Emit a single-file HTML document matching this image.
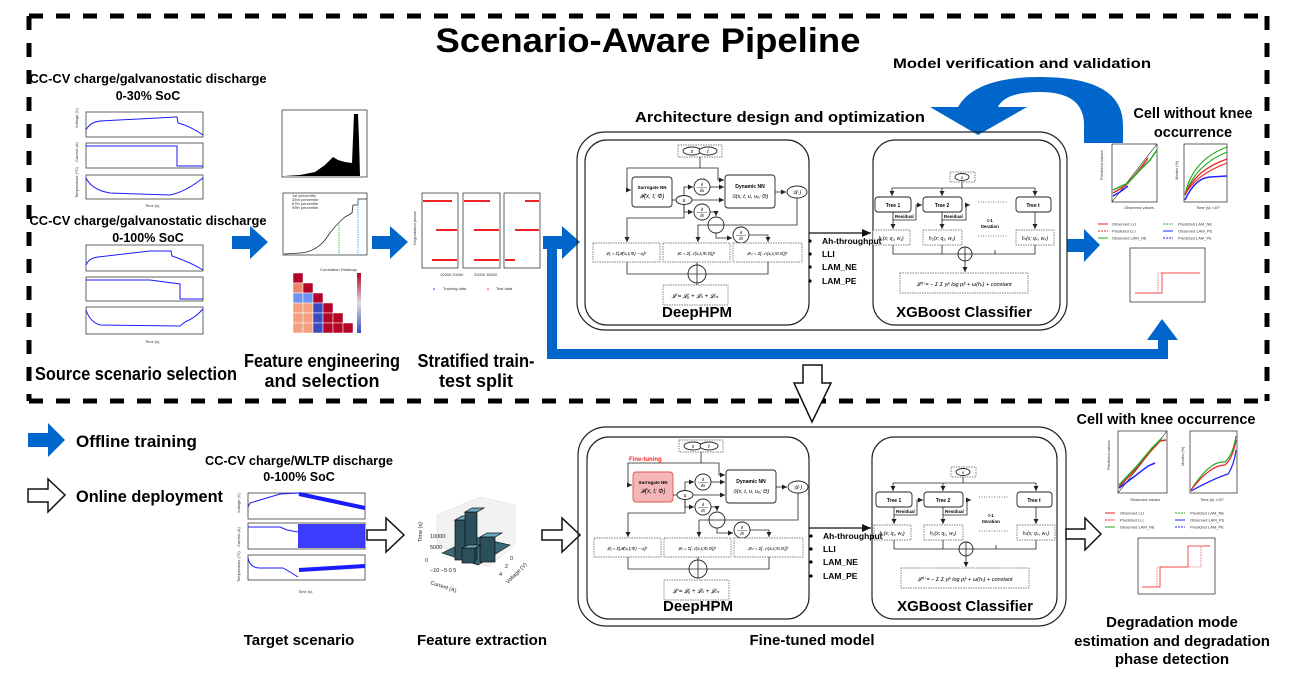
<!DOCTYPE html>
<html><head><meta charset="utf-8"><style>
html,body{margin:0;padding:0;background:#fff}
svg{display:block}
text{font-family:"Liberation Sans",Arial,sans-serif}
.b{font-weight:bold}
.ax{fill:none;stroke:#222;stroke-width:0.7}
.bl{fill:none;stroke:#1a1aff;stroke-width:1}
.ln{fill:none;stroke:#222;stroke-width:0.8}
.bx{fill:#fff;stroke:#222;stroke-width:0.9}
.dbx{fill:#fff;stroke:#555;stroke-width:0.7;stroke-dasharray:1.5 1}
.t4{font-size:4px;fill:#333}
.t5{font-size:5px}
</style></head><body>
<svg width="1296" height="684" viewBox="0 0 1296 684" xmlns="http://www.w3.org/2000/svg">
<defs>
<marker id="ah" markerWidth="6" markerHeight="6" refX="5" refY="3" orient="auto" markerUnits="userSpaceOnUse"><path d="M0,0.5 L5,3 L0,5.5 z" fill="#222"/></marker>
<marker id="ah2" markerWidth="10" markerHeight="10" refX="9" refY="5" orient="auto" markerUnits="userSpaceOnUse"><path d="M0,1 L9,5 L0,9 z" fill="#111"/></marker>
<linearGradient id="cb" x1="0" y1="0" x2="0" y2="1"><stop offset="0" stop-color="#b40426"/><stop offset="0.5" stop-color="#dddddd"/><stop offset="1" stop-color="#3b4cc0"/></linearGradient>
</defs>

<g stroke="#000" stroke-width="5" fill="none">
<path d="M29,16 L1267,16" stroke-dasharray="14 13"/>
<path d="M1267,16 L1267,401" stroke-dasharray="14 13"/>
<path d="M29,401 L1267,401" stroke-dasharray="14 13"/>
<path d="M29,16 L29,401" stroke-dasharray="14 13"/>
</g>

<text x="648" y="52" class="b" font-size="34" text-anchor="middle" textLength="425" lengthAdjust="spacingAndGlyphs">Scenario-Aware Pipeline</text>

<text x="148" y="83" class="b" font-size="12.5" text-anchor="middle" textLength="237" lengthAdjust="spacingAndGlyphs">CC-CV charge/galvanostatic discharge</text>
<text x="148" y="100" class="b" font-size="12.5" text-anchor="middle">0-30% SoC</text>
<rect x="86" y="112" width="117" height="25" class="ax"/>
<rect x="86" y="143" width="117" height="25" class="ax"/>
<rect x="86" y="175" width="117" height="24" class="ax"/>
<path class="bl" d="M86,130 Q90,122 100,121 L176,117 L177,117 L178,123 Q190,126 203,135"/>
<path class="bl" d="M86,146 L177,146 L177,166 L203,166"/>
<path class="bl" d="M86,178 Q92,190 110,193 L170,195 Q185,192 203,178"/>
<text x="78" y="128" class="t4" transform="rotate(-90 78 128)">Voltage (V)</text>
<text x="78" y="162" class="t4" transform="rotate(-90 78 162)">Current (A)</text>
<text x="78" y="198" class="t4" transform="rotate(-90 78 198)">Temperature (°C)</text>
<text x="145" y="207" class="t4">Time (s)</text>
<text x="148" y="225" class="b" font-size="12.5" text-anchor="middle" textLength="237" lengthAdjust="spacingAndGlyphs">CC-CV charge/galvanostatic discharge</text>
<text x="148" y="242" class="b" font-size="12.5" text-anchor="middle">0-100% SoC</text>
<rect x="86" y="245" width="117" height="26" class="ax"/>
<rect x="86" y="277" width="117" height="24" class="ax"/>
<rect x="86" y="307" width="117" height="27" class="ax"/>
<path class="bl" d="M86,265 Q89,258 98,257 L150,251 L171,251 L172,256 Q190,262 203,270"/>
<path class="bl" d="M86,280 L150,280 L180,284 L180,299 L203,299"/>
<path class="bl" d="M86,310 Q90,322 100,325 L180,326 L185,322 Q195,318 203,309"/>
<text x="145" y="343" class="t4">Time (s)</text>
<text x="136" y="380" class="b" font-size="18" text-anchor="middle" textLength="202" lengthAdjust="spacingAndGlyphs">Source scenario selection</text>

<polygon fill="#0066cc" points="232,236 250,236 250,226 268,242 250,259 250,249 232,249"/>
<polygon fill="#0066cc" points="372,236 390,236 390,226 408,242 390,259 390,249 372,249"/>
<polygon fill="#0066cc" points="543,236 562,236 562,226 580,242 562,259 562,249 543,249"/>
<path d="M552,244 L552,354 L1163,354 L1163,338" fill="none" stroke="#0066cc" stroke-width="10"/>
<polygon fill="#0066cc" points="1147,340 1178,340 1162,319"/>
<polygon fill="#0066cc" points="1067,239 1084,239 1084,229 1100,245 1084,262 1084,252 1067,252"/>

<rect x="282" y="110" width="85" height="67" class="ax"/>
<path d="M284,176 L300,175 L315,172 L325,165 L333,157 L338,160 L345,162 L352,163 L354,114 L358,114 L359,140 L360,176 Z" fill="#000"/>
<rect x="283" y="193" width="84" height="62" class="ax"/>
<path d="M284,254 L300,253 Q315,252 325,240 Q335,225 345,217 L352,213 L353,205 L358,205 L358,199 L367,199" class="ln"/>
<line x1="339" y1="222" x2="339" y2="255" stroke="#2a2" stroke-width="0.8" stroke-dasharray="1.5 1"/>
<line x1="358" y1="199" x2="358" y2="255" stroke="#29f" stroke-width="0.8" stroke-dasharray="1.5 1"/>
<g class="t4"><text x="292" y="197">1st percentile</text><text x="292" y="201">33rd percentile</text><text x="292" y="205">67th percentile</text><text x="292" y="209">99th percentile</text></g>
<text x="320" y="271" class="t4">Correlation Heatmap</text>
<g stroke="#fff" stroke-width="0.5">
<rect x="293" y="273" width="10" height="10" fill="#b40426"/>
<rect x="293" y="283" width="10" height="10" fill="#ee8468"/><rect x="303" y="283" width="10" height="10" fill="#b40426"/>
<rect x="293" y="293" width="10" height="10" fill="#6f92f3"/><rect x="303" y="293" width="10" height="10" fill="#6f92f3"/><rect x="313" y="293" width="10" height="10" fill="#b40426"/>
<rect x="293" y="303" width="10" height="10" fill="#f5a081"/><rect x="303" y="303" width="10" height="10" fill="#f5a081"/><rect x="313" y="303" width="10" height="10" fill="#3b4cc0"/><rect x="323" y="303" width="10" height="10" fill="#b40426"/>
<rect x="293" y="313" width="10" height="10" fill="#f5a081"/><rect x="303" y="313" width="10" height="10" fill="#f5a081"/><rect x="313" y="313" width="10" height="10" fill="#3b4cc0"/><rect x="323" y="313" width="10" height="10" fill="#b40426"/><rect x="333" y="313" width="10" height="10" fill="#b40426"/>
<rect x="293" y="323" width="10" height="10" fill="#f5a081"/><rect x="303" y="323" width="10" height="10" fill="#f5a081"/><rect x="313" y="323" width="10" height="10" fill="#3b4cc0"/><rect x="323" y="323" width="10" height="10" fill="#b40426"/><rect x="333" y="323" width="10" height="10" fill="#b40426"/><rect x="343" y="323" width="10" height="10" fill="#b40426"/>
</g>
<rect x="357" y="273" width="4" height="60" fill="url(#cb)"/>
<text x="322" y="367" class="b" font-size="18" text-anchor="middle" textLength="156" lengthAdjust="spacingAndGlyphs">Feature engineering</text>
<text x="322" y="387" class="b" font-size="18" text-anchor="middle">and selection</text>

<rect x="422" y="193" width="36" height="75" class="ax"/>
<rect x="463" y="193" width="37" height="75" class="ax"/>
<rect x="504" y="193" width="36" height="75" class="ax"/>
<g stroke="#e22" stroke-width="2">
<line x1="423" y1="201" x2="452" y2="201"/><line x1="436" y1="230" x2="457" y2="230"/><line x1="432" y1="260" x2="457" y2="260"/>
<line x1="464" y1="201" x2="490" y2="201"/><line x1="474" y1="230" x2="499" y2="230"/><line x1="474" y1="260" x2="499" y2="260"/>
<line x1="525" y1="201" x2="539" y2="201"/><line x1="515" y1="230" x2="539" y2="230"/><line x1="505" y1="260" x2="515" y2="260"/>
</g>
<text x="416" y="245" class="t4" transform="rotate(-90 416 245)">Degradation phase</text>
<text x="440" y="276" class="t4">10000 20000</text><text x="474" y="276" class="t4">20000 30000</text>
<circle cx="434" cy="289" r="0.8" fill="#22f"/><text x="443" y="290" class="t4">Training data</text>
<circle cx="488" cy="289" r="0.8" fill="#e22"/><text x="496" y="290" class="t4">Test data</text>
<text x="476" y="367" class="b" font-size="18" text-anchor="middle" textLength="117" lengthAdjust="spacingAndGlyphs">Stratified train-</text>
<text x="476" y="387" class="b" font-size="18" text-anchor="middle">test split</text>

<text x="1022" y="68" class="b" font-size="14" text-anchor="middle" textLength="258" lengthAdjust="spacingAndGlyphs">Model verification and validation</text>
<path d="M958,107 Q975,77 1040,77 Q1123,77 1123,125 L1123,143 L1084,143 L1084,125 Q1084,92 1040,92 Q1005,92 998,107 Z" fill="#0066cc"/>
<polygon points="930,107 1027,107 978,135" fill="#0066cc"/>
<text x="780" y="122" class="b" font-size="14.5" text-anchor="middle" textLength="290" lengthAdjust="spacingAndGlyphs">Architecture design and optimization</text>

<g>
<rect x="577" y="132" width="490" height="198" rx="28" fill="none" stroke="#222" stroke-width="1.2"/>
<rect x="585" y="140" width="224" height="185" rx="22" fill="none" stroke="#222" stroke-width="1.2"/>
<rect x="873" y="140" width="187" height="185" rx="22" fill="none" stroke="#222" stroke-width="1.2"/>
<rect x="678" y="145" width="44" height="12" class="dbx"/>
<ellipse cx="692" cy="151" rx="9" ry="4" class="bx"/><text x="692" y="153" class="t5" text-anchor="middle" font-style="italic">x</text>
<ellipse cx="708" cy="151" rx="9" ry="4" class="bx"/><text x="708" y="153" class="t5" text-anchor="middle" font-style="italic">t</text>
<path class="ln" d="M700,157 L700,168 L627,168 L627,190 L631,190" marker-end="url(#ah)"/>
<path class="ln" d="M700,168 L718,168 L718,180 L724,180" marker-end="url(#ah)"/>
<rect x="632" y="177" width="40" height="30" rx="3" class="bx"/>
<text x="652" y="189" class="b" font-size="4.5" text-anchor="middle">Surrogate NN</text>
<text x="652" y="198" font-size="6" text-anchor="middle" font-style="italic">𝓕(x, t; Φ)</text>
<line x1="672" y1="200" x2="676" y2="200" class="ln"/>
<ellipse cx="684" cy="200" rx="8" ry="4.5" class="bx"/><text x="684" y="202" class="t5" text-anchor="middle">u</text>
<path class="ln" d="M684,195 L684,187 L693,187" marker-end="url(#ah)"/>
<path class="ln" d="M684,205 L684,212 L693,212" marker-end="url(#ah)"/>
<circle cx="702" cy="187" r="8" class="bx"/><text x="702" y="186" font-size="4.5" text-anchor="middle">∂</text><line x1="697" y1="187.5" x2="707" y2="187.5" stroke="#222" stroke-width="0.4"/><text x="702" y="192" font-size="4.5" text-anchor="middle">∂x</text>
<circle cx="702" cy="212" r="8" class="bx"/><text x="702" y="211" font-size="4.5" text-anchor="middle">∂</text><line x1="697" y1="212.5" x2="707" y2="212.5" stroke="#222" stroke-width="0.4"/><text x="702" y="217" font-size="4.5" text-anchor="middle">∂t</text>
<path class="ln" d="M710,187 L724,187" marker-end="url(#ah)"/>
<path class="ln" d="M692,200 L724,200" marker-end="url(#ah)"/>
<rect x="725" y="175" width="50" height="33" rx="3" class="bx"/>
<text x="750" y="188" class="b" font-size="5" text-anchor="middle">Dynamic NN</text>
<text x="750" y="198" font-size="5.5" text-anchor="middle" font-style="italic">𝒢(x, t, u, uₓ; Θ)</text>
<path class="ln" d="M775,192 L786,192" marker-end="url(#ah)"/>
<ellipse cx="797" cy="192" rx="10" ry="6" class="bx"/><text x="797" y="194" class="t5" text-anchor="middle" font-style="italic">𝒢(·)</text>
<path class="ln" d="M797,198 L797,225 L698,225 L698,242" marker-end="url(#ah)"/>
<path class="ln" d="M684,205 L684,218 L627,218 L627,242" marker-end="url(#ah)"/>
<path class="ln" d="M710,212 L716,212 L716,216" marker-end="url(#ah)"/>
<circle cx="716" cy="225" r="8" class="bx"/><line x1="708" y1="225" x2="724" y2="225" stroke="#222" stroke-width="0.8"/>
<path class="ln" d="M716,233 L716,238 L732,238" marker-end="url(#ah)"/>
<circle cx="741" cy="235" r="8" class="bx"/><text x="741" y="234" font-size="4.5" text-anchor="middle">∂</text><line x1="736" y1="235.5" x2="746" y2="235.5" stroke="#222" stroke-width="0.4"/><text x="741" y="240" font-size="4.5" text-anchor="middle">∂t</text>
<path class="ln" d="M749,235 L768,235 L768,242" marker-end="url(#ah)"/>
<rect x="593" y="243" width="67" height="19" class="dbx"/>
<rect x="663" y="243" width="67" height="19" class="dbx"/>
<rect x="733" y="243" width="69" height="19" class="dbx"/>
<text x="626" y="255" font-size="4.3" text-anchor="middle" font-style="italic">𝓛ᵤ = Σ[𝓕(xᵢ,tᵢ;Φ) − uᵢ]²</text>
<text x="696" y="255" font-size="4.3" text-anchor="middle" font-style="italic">𝓛ₙ = Σ[𝒩(xᵢ,tᵢ;Φ,Θ)]²</text>
<text x="767" y="255" font-size="4.3" text-anchor="middle" font-style="italic">𝓛ₙₜ = Σ[𝒩ₜ(xᵢ,tᵢ;Φ,Θ)]²</text>
<path class="ln" d="M627,262 L627,274 L688,274"/>
<path class="ln" d="M768,262 L768,274 L706,274"/>
<line x1="697" y1="262" x2="697" y2="265" class="ln"/>
<circle cx="697" cy="274" r="9" class="bx"/><line x1="688" y1="274" x2="706" y2="274" stroke="#222" stroke-width="0.8"/><line x1="697" y1="265" x2="697" y2="283" stroke="#222" stroke-width="0.8"/>
<path class="ln" d="M697,283 L697,285"/>
<rect x="663" y="285" width="65" height="20" class="dbx"/>
<text x="695" y="298" font-size="6" text-anchor="middle" font-style="italic">𝓛 = 𝓛ᵤ + 𝓛ₙ + 𝓛ₙₜ</text>
<text x="697" y="317" class="b" font-size="15" text-anchor="middle">DeepHPM</text>
<rect x="950" y="172" width="25" height="10" class="dbx"/>
<ellipse cx="962" cy="177" rx="7" ry="3.5" class="bx"/><text x="962" y="179" font-size="4.5" text-anchor="middle" font-style="italic">x</text>
<path class="ln" d="M962,182 L962,188 M892,188 L1035,188"/>
<path class="ln" d="M892,188 L892,196" marker-end="url(#ah)"/>
<path class="ln" d="M942,188 L942,196" marker-end="url(#ah)"/>
<path class="ln" d="M1035,188 L1035,196" marker-end="url(#ah)"/>
<rect x="875" y="197" width="36" height="15" rx="3" class="bx"/><text x="893" y="207" class="b" font-size="5" text-anchor="middle">Tree 1</text>
<rect x="923" y="197" width="39" height="15" rx="3" class="bx"/><text x="942" y="207" class="b" font-size="5" text-anchor="middle">Tree 2</text>
<rect x="1016" y="197" width="35" height="15" rx="3" class="bx"/><text x="1033" y="207" class="b" font-size="5" text-anchor="middle">Tree t</text>
<path class="ln" d="M893,212 L893,220 L916,220 L916,205 L922,205" marker-end="url(#ah)"/>
<path class="ln" d="M942,212 L942,220 L966,220 L966,205 L970,205" marker-end="url(#ah)"/>
<text x="895" y="218" class="b" font-size="4.5">Residual</text><text x="944" y="218" class="b" font-size="4.5">Residual</text>
<line x1="978" y1="202" x2="1008" y2="202" stroke="#444" stroke-width="0.7" stroke-dasharray="1 1.5"/>
<text x="990" y="222" font-size="4.5" text-anchor="middle" class="b">t-1</text><text x="990" y="228" font-size="4.5" text-anchor="middle" class="b">Iteration</text>
<path class="ln" d="M893,220 L893,229" marker-end="url(#ah)"/>
<path class="ln" d="M942,220 L942,229" marker-end="url(#ah)"/>
<path class="ln" d="M1035,212 L1035,229" marker-end="url(#ah)"/>
<rect x="873" y="230" width="37" height="15" class="dbx"/><text x="891" y="240" font-size="5" text-anchor="middle" font-style="italic">h₁(x; q₁, w₁)</text>
<rect x="923" y="230" width="39" height="15" class="dbx"/><text x="942" y="240" font-size="5" text-anchor="middle" font-style="italic">h₂(x; q₂, w₂)</text>
<rect x="1016" y="230" width="38" height="15" class="dbx"/><text x="1035" y="240" font-size="5" text-anchor="middle" font-style="italic">hₜ(x; qₖ, wₖ)</text>
<line x1="978" y1="236" x2="1008" y2="236" stroke="#444" stroke-width="0.7" stroke-dasharray="1 1.5"/>
<path class="ln" d="M893,245 L893,254 L1035,254 L1035,245 M942,245 L942,254 M995,250 L995,254"/>
<circle cx="965" cy="254" r="7" class="bx"/><line x1="958" y1="254" x2="972" y2="254" stroke="#222" stroke-width="0.8"/><line x1="965" y1="247" x2="965" y2="261" stroke="#222" stroke-width="0.8"/>
<path class="ln" d="M965,261 L965,272" marker-end="url(#ah)"/>
<rect x="900" y="273" width="128" height="20" class="dbx"/>
<text x="964" y="286" font-size="5.5" text-anchor="middle" font-style="italic">𝓛⁽ᵗ⁾ = − Σ Σ yᵢᵏ log pᵢᵏ + ω(hₜ) + constant</text>
<text x="964" y="317" class="b" font-size="15" text-anchor="middle">XGBoost Classifier</text>
<path d="M809,233 L871,233" stroke="#111" stroke-width="1.3" marker-end="url(#ah2)"/>
<g class="b" font-size="8.5"><circle cx="810" cy="241" r="1.6"/><text x="822" y="244">Ah-throughput</text><circle cx="810" cy="254" r="1.6"/><text x="822" y="257">LLI</text><circle cx="810" cy="267" r="1.6"/><text x="822" y="270">LAM_NE</text><circle cx="810" cy="281" r="1.6"/><text x="822" y="284">LAM_PE</text></g>
</g>

<text x="1193" y="118" class="b" font-size="14.5" text-anchor="middle">Cell without knee</text>
<text x="1193" y="137" class="b" font-size="14.5" text-anchor="middle">occurrence</text>
<rect x="1112" y="144" width="45" height="58" class="ax"/>
<line x1="1112" y1="202" x2="1157" y2="144" stroke="#111" stroke-width="0.6"/>
<path d="M1113,193 L1125,186 L1135,175 L1143,165 L1148,158" stroke="#e22" stroke-width="1.5" fill="none"/>
<path d="M1113,190 L1128,183 L1140,170 L1150,160 L1157,150" stroke="#2a2" stroke-width="1.5" fill="none"/>
<path d="M1113,196 L1120,192 L1128,186" stroke="#22f" stroke-width="1.5" fill="none"/>
<rect x="1184" y="144" width="43" height="58" class="ax"/>
<path d="M1185,195 Q1192,160 1227,147" stroke="#2a2" stroke-width="1.2" fill="none"/>
<path d="M1185,195 Q1195,165 1227,152" stroke="#2a2" stroke-width="1.2" fill="none"/>
<path d="M1185,195 Q1195,170 1227,159" stroke="#e22" stroke-width="1.2" fill="none"/>
<path d="M1185,195 Q1195,175 1227,163" stroke="#e22" stroke-width="1.2" fill="none"/>
<path d="M1185,200 Q1195,178 1210,177 L1227,176" stroke="#22f" stroke-width="1.5" fill="none"/>
<text x="1103" y="180" class="t4" transform="rotate(-90 1103 180)">Predicted values</text>
<text x="1178" y="180" class="t4" transform="rotate(-90 1178 180)">Modes (%)</text>
<text x="1124" y="209" class="t4">Observed values</text><text x="1196" y="209" class="t4">Time (s) ×10⁷</text>
<g class="t4">
<line x1="1098" y1="224" x2="1108" y2="224" stroke="#e22"/><text x="1112" y="225.5">Observed LLI</text>
<line x1="1098" y1="231" x2="1108" y2="231" stroke="#e22" stroke-dasharray="2 1"/><text x="1112" y="232.5">Predicted LLI</text>
<line x1="1098" y1="238" x2="1108" y2="238" stroke="#2a2"/><text x="1112" y="239.5">Observed LAM_NE</text>
<line x1="1163" y1="224" x2="1173" y2="224" stroke="#2a2" stroke-dasharray="2 1"/><text x="1178" y="225.5">Predicted LAM_NE</text>
<line x1="1163" y1="231" x2="1173" y2="231" stroke="#22f"/><text x="1178" y="232.5">Observed LAM_PE</text>
<line x1="1163" y1="238" x2="1173" y2="238" stroke="#22f" stroke-dasharray="2 1"/><text x="1178" y="239.5">Predicted LAM_PE</text>
</g>
<rect x="1130" y="248" width="75" height="54" class="ax"/>
<path d="M1135,293 L1162,293 L1162,273 L1200,273" stroke="#e22" stroke-width="0.8" fill="none"/>
<path d="M1135,293 L1158,293 L1158,273 L1200,273" stroke="#e22" stroke-width="0.6" stroke-dasharray="1.5 1" fill="none"/>

<polygon points="803,365 822,365 822,383 831,383 812,422 794,383 803,383" fill="#fff" stroke="#111" stroke-width="1.5"/>

<polygon fill="#0066cc" points="28,433 48,433 48,423 65,440 48,457 48,447 28,447"/>
<text x="76" y="447" class="b" font-size="17">Offline training</text>
<polygon fill="#fff" stroke="#111" stroke-width="1.5" points="28,489 48,489 48,479 65,495 48,512 48,502 28,502"/>
<text x="76" y="502" class="b" font-size="17" textLength="147" lengthAdjust="spacingAndGlyphs">Online deployment</text>

<text x="299" y="465" class="b" font-size="12.5" text-anchor="middle" textLength="188" lengthAdjust="spacingAndGlyphs">CC-CV charge/WLTP discharge</text>
<text x="299" y="481" class="b" font-size="12.5" text-anchor="middle">0-100% SoC</text>
<rect x="248" y="493" width="117" height="26" class="ax"/>
<rect x="248" y="523" width="117" height="26" class="ax"/>
<rect x="248" y="555" width="117" height="25" class="ax"/>
<path class="bl" d="M248,507 L250,503 L280,494 L299,493 L300,494"/>
<path d="M299,494 L365,508" stroke="#1a1aff" stroke-width="4" fill="none"/>
<path class="bl" d="M248,527 L280,527 L287,530 L298,532"/>
<rect x="298" y="524" width="67" height="24" fill="#1a1aff" opacity="0.85"/>
<path class="bl" d="M248,558 Q250,568 260,568 L283,568 L290,572 L298,577"/>
<path d="M299,570 L365,566" stroke="#1a1aff" stroke-width="4" fill="none"/>
<text x="240" y="513" class="t4" transform="rotate(-90 240 513)">Voltage (V)</text>
<text x="240" y="547" class="t4" transform="rotate(-90 240 547)">Current (A)</text>
<text x="240" y="582" class="t4" transform="rotate(-90 240 582)">Temperature (°C)</text>
<text x="298" y="593" class="t4">Time (s)</text>
<polygon fill="#fff" stroke="#111" stroke-width="1.5" points="367,530 386,530 386,518 404,535 386,552 386,540 367,540"/>
<polygon points="437,515 480,497 515,505 515,545 488,567 437,545" fill="#f2f2f2" stroke="#ddd" stroke-width="0.5"/>
<polygon points="442,553 475,537 510,545 478,565" fill="#3a6a7a" stroke="#111" stroke-width="0.6"/>
<g stroke="#111" stroke-width="0.7">
<rect x="455" y="520" width="14" height="40" fill="#2c4f5c"/><polygon points="455,520 462,516 476,516 469,520" fill="#6aaac5"/>
<rect x="465" y="512" width="12" height="48" fill="#2c4f5c"/><polygon points="465,512 472,508 484,508 477,512" fill="#6aaac5"/>
<rect x="480" y="537" width="15" height="25" fill="#2c4f5c"/><polygon points="480,537 487,533 502,533 495,537" fill="#6aaac5"/>
<rect x="462" y="548" width="13" height="15" fill="#2c4f5c"/><polygon points="462,548 468,545 481,545 475,548" fill="#6aaac5"/>
</g>
<g font-size="5.5" fill="#222" font-family="Liberation Serif,serif">
<text x="430" y="538">10000</text><text x="430" y="549">5000</text><text x="425" y="562">0</text>
<text x="422" y="542" transform="rotate(-90 422 542)">Time (s)</text>
<text x="430" y="572">−10 −5  0   5</text>
<text x="430" y="584" transform="rotate(18 430 584)">Current (A)</text>
<text x="510" y="560">0</text><text x="505" y="568">2</text><text x="499" y="576">4</text>
<text x="508" y="584" transform="rotate(-45 508 584)">Voltage (V)</text>
</g>
<polygon fill="#fff" stroke="#111" stroke-width="1.5" points="542,530 562,530 562,518 580,535 562,552 562,540 542,540"/>
<text x="299" y="645" class="b" font-size="15" text-anchor="middle">Target scenario</text>
<text x="482" y="645" class="b" font-size="15" text-anchor="middle">Feature extraction</text>

<g transform="translate(1,295)">
<rect x="577" y="132" width="488" height="199" rx="28" fill="none" stroke="#222" stroke-width="1.2"/>
<rect x="586" y="142" width="222" height="182" rx="22" fill="none" stroke="#222" stroke-width="1.2"/>
<rect x="871" y="142" width="185" height="182" rx="22" fill="none" stroke="#222" stroke-width="1.2"/>
<text x="628" y="166" class="b" font-size="6" fill="#f22">Fine-tuning</text>
<rect x="678" y="145" width="44" height="12" class="dbx"/>
<ellipse cx="692" cy="151" rx="9" ry="4" class="bx"/><text x="692" y="153" class="t5" text-anchor="middle" font-style="italic">x</text>
<ellipse cx="708" cy="151" rx="9" ry="4" class="bx"/><text x="708" y="153" class="t5" text-anchor="middle" font-style="italic">t</text>
<path class="ln" d="M700,157 L700,168 L627,168 L627,190 L631,190" marker-end="url(#ah)"/>
<path class="ln" d="M700,168 L718,168 L718,180 L724,180" marker-end="url(#ah)"/>
<rect x="632" y="177" width="40" height="30" rx="3" fill="#f4b6b6" stroke="#e05555" stroke-width="0.9"/>
<text x="652" y="189" class="b" font-size="4.5" text-anchor="middle">Surrogate NN</text>
<text x="652" y="198" font-size="6" text-anchor="middle" font-style="italic">𝓕(x, t; Φ)</text>
<line x1="672" y1="200" x2="676" y2="200" class="ln"/>
<ellipse cx="684" cy="200" rx="8" ry="4.5" class="bx"/><text x="684" y="202" class="t5" text-anchor="middle">u</text>
<path class="ln" d="M684,195 L684,187 L693,187" marker-end="url(#ah)"/>
<path class="ln" d="M684,205 L684,212 L693,212" marker-end="url(#ah)"/>
<circle cx="702" cy="187" r="8" class="bx"/><text x="702" y="186" font-size="4.5" text-anchor="middle">∂</text><line x1="697" y1="187.5" x2="707" y2="187.5" stroke="#222" stroke-width="0.4"/><text x="702" y="192" font-size="4.5" text-anchor="middle">∂x</text>
<circle cx="702" cy="212" r="8" class="bx"/><text x="702" y="211" font-size="4.5" text-anchor="middle">∂</text><line x1="697" y1="212.5" x2="707" y2="212.5" stroke="#222" stroke-width="0.4"/><text x="702" y="217" font-size="4.5" text-anchor="middle">∂t</text>
<path class="ln" d="M710,187 L724,187" marker-end="url(#ah)"/>
<path class="ln" d="M692,200 L724,200" marker-end="url(#ah)"/>
<rect x="725" y="175" width="50" height="33" rx="3" class="bx"/>
<text x="750" y="188" class="b" font-size="5" text-anchor="middle">Dynamic NN</text>
<text x="750" y="198" font-size="5.5" text-anchor="middle" font-style="italic">𝒢(x, t, u, uₓ; Θ)</text>
<path class="ln" d="M775,192 L786,192" marker-end="url(#ah)"/>
<ellipse cx="797" cy="192" rx="10" ry="6" class="bx"/><text x="797" y="194" class="t5" text-anchor="middle" font-style="italic">𝒢(·)</text>
<path class="ln" d="M797,198 L797,225 L698,225 L698,242" marker-end="url(#ah)"/>
<path class="ln" d="M684,205 L684,218 L627,218 L627,242" marker-end="url(#ah)"/>
<path class="ln" d="M710,212 L716,212 L716,216" marker-end="url(#ah)"/>
<circle cx="716" cy="225" r="8" class="bx"/><line x1="708" y1="225" x2="724" y2="225" stroke="#222" stroke-width="0.8"/>
<path class="ln" d="M716,233 L716,238 L732,238" marker-end="url(#ah)"/>
<circle cx="741" cy="235" r="8" class="bx"/><text x="741" y="234" font-size="4.5" text-anchor="middle">∂</text><line x1="736" y1="235.5" x2="746" y2="235.5" stroke="#222" stroke-width="0.4"/><text x="741" y="240" font-size="4.5" text-anchor="middle">∂t</text>
<path class="ln" d="M749,235 L768,235 L768,242" marker-end="url(#ah)"/>
<rect x="593" y="243" width="67" height="19" class="dbx"/>
<rect x="663" y="243" width="67" height="19" class="dbx"/>
<rect x="733" y="243" width="69" height="19" class="dbx"/>
<text x="626" y="255" font-size="4.3" text-anchor="middle" font-style="italic">𝓛ᵤ = Σ[𝓕(xᵢ,tᵢ;Φ) − uᵢ]²</text>
<text x="696" y="255" font-size="4.3" text-anchor="middle" font-style="italic">𝓛ₙ = Σ[𝒩(xᵢ,tᵢ;Φ,Θ)]²</text>
<text x="767" y="255" font-size="4.3" text-anchor="middle" font-style="italic">𝓛ₙₜ = Σ[𝒩ₜ(xᵢ,tᵢ;Φ,Θ)]²</text>
<path class="ln" d="M627,262 L627,274 L688,274"/>
<path class="ln" d="M768,262 L768,274 L706,274"/>
<line x1="697" y1="262" x2="697" y2="265" class="ln"/>
<circle cx="697" cy="274" r="9" class="bx"/><line x1="688" y1="274" x2="706" y2="274" stroke="#222" stroke-width="0.8"/><line x1="697" y1="265" x2="697" y2="283" stroke="#222" stroke-width="0.8"/>
<rect x="663" y="285" width="65" height="20" class="dbx"/>
<text x="695" y="298" font-size="6" text-anchor="middle" font-style="italic">𝓛 = 𝓛ᵤ + 𝓛ₙ + 𝓛ₙₜ</text>
<text x="697" y="316" class="b" font-size="15" text-anchor="middle">DeepHPM</text>
<rect x="950" y="172" width="25" height="10" class="dbx"/>
<ellipse cx="962" cy="177" rx="7" ry="3.5" class="bx"/><text x="962" y="179" font-size="4.5" text-anchor="middle" font-style="italic">x</text>
<path class="ln" d="M962,182 L962,188 M892,188 L1035,188"/>
<path class="ln" d="M892,188 L892,196" marker-end="url(#ah)"/>
<path class="ln" d="M942,188 L942,196" marker-end="url(#ah)"/>
<path class="ln" d="M1035,188 L1035,196" marker-end="url(#ah)"/>
<rect x="875" y="197" width="36" height="15" rx="3" class="bx"/><text x="893" y="207" class="b" font-size="5" text-anchor="middle">Tree 1</text>
<rect x="923" y="197" width="39" height="15" rx="3" class="bx"/><text x="942" y="207" class="b" font-size="5" text-anchor="middle">Tree 2</text>
<rect x="1016" y="197" width="35" height="15" rx="3" class="bx"/><text x="1033" y="207" class="b" font-size="5" text-anchor="middle">Tree t</text>
<path class="ln" d="M893,212 L893,220 L916,220 L916,205 L922,205" marker-end="url(#ah)"/>
<path class="ln" d="M942,212 L942,220 L966,220 L966,205 L970,205" marker-end="url(#ah)"/>
<text x="895" y="218" class="b" font-size="4.5">Residual</text><text x="944" y="218" class="b" font-size="4.5">Residual</text>
<line x1="978" y1="202" x2="1008" y2="202" stroke="#444" stroke-width="0.7" stroke-dasharray="1 1.5"/>
<text x="990" y="222" font-size="4.5" text-anchor="middle" class="b">t-1</text><text x="990" y="228" font-size="4.5" text-anchor="middle" class="b">Iteration</text>
<path class="ln" d="M893,220 L893,229" marker-end="url(#ah)"/>
<path class="ln" d="M942,220 L942,229" marker-end="url(#ah)"/>
<path class="ln" d="M1035,212 L1035,229" marker-end="url(#ah)"/>
<rect x="873" y="230" width="37" height="15" class="dbx"/><text x="891" y="240" font-size="5" text-anchor="middle" font-style="italic">h₁(x; q₁, w₁)</text>
<rect x="923" y="230" width="39" height="15" class="dbx"/><text x="942" y="240" font-size="5" text-anchor="middle" font-style="italic">h₂(x; q₂, w₂)</text>
<rect x="1016" y="230" width="38" height="15" class="dbx"/><text x="1035" y="240" font-size="5" text-anchor="middle" font-style="italic">hₜ(x; qₖ, wₖ)</text>
<line x1="978" y1="236" x2="1008" y2="236" stroke="#444" stroke-width="0.7" stroke-dasharray="1 1.5"/>
<path class="ln" d="M893,245 L893,254 L1035,254 L1035,245 M942,245 L942,254 M995,250 L995,254"/>
<circle cx="965" cy="254" r="7" class="bx"/><line x1="958" y1="254" x2="972" y2="254" stroke="#222" stroke-width="0.8"/><line x1="965" y1="247" x2="965" y2="261" stroke="#222" stroke-width="0.8"/>
<path class="ln" d="M965,261 L965,272" marker-end="url(#ah)"/>
<rect x="900" y="273" width="128" height="20" class="dbx"/>
<text x="964" y="286" font-size="5.5" text-anchor="middle" font-style="italic">𝓛⁽ᵗ⁾ = − Σ Σ yᵢᵏ log pᵢᵏ + ω(hₜ) + constant</text>
<text x="964" y="316" class="b" font-size="15" text-anchor="middle">XGBoost Classifier</text>
<path d="M808,233 L870,233" stroke="#111" stroke-width="1.3" marker-end="url(#ah2)"/>
<g class="b" font-size="8.5"><circle cx="810" cy="241" r="1.6"/><text x="822" y="244">Ah-throughput</text><circle cx="810" cy="254" r="1.6"/><text x="822" y="257">LLI</text><circle cx="810" cy="267" r="1.6"/><text x="822" y="270">LAM_NE</text><circle cx="810" cy="281" r="1.6"/><text x="822" y="284">LAM_PE</text></g>
</g>
<text x="812" y="645" class="b" font-size="15" text-anchor="middle">Fine-tuned model</text>

<polygon fill="#fff" stroke="#111" stroke-width="1.5" points="1066,529 1085,529 1085,518 1101,534 1085,550 1085,539 1066,539"/>
<text x="1166" y="424" class="b" font-size="14.5" text-anchor="middle">Cell with knee occurrence</text>
<rect x="1118" y="431" width="49" height="62" class="ax"/>
<line x1="1118" y1="493" x2="1167" y2="431" stroke="#111" stroke-width="0.6"/>
<path d="M1119,487 L1135,470 L1150,452 L1160,441 L1166,440" stroke="#e22" stroke-width="1.5" fill="none"/>
<path d="M1119,485 L1137,466 L1152,448 L1162,438" stroke="#2a2" stroke-width="1.5" fill="none"/>
<path d="M1119,488 L1135,476 L1148,466 L1155,463" stroke="#22f" stroke-width="1.5" fill="none"/>
<rect x="1190" y="431" width="47" height="62" class="ax"/>
<path d="M1191,490 Q1210,460 1225,462 Q1233,455 1236,436" stroke="#2a2" stroke-width="1.2" fill="none"/>
<path d="M1191,490 Q1210,465 1225,465 Q1233,458 1236,440" stroke="#e22" stroke-width="1.2" fill="none"/>
<path d="M1191,491 Q1215,478 1228,474 Q1234,465 1236,450" stroke="#22f" stroke-width="1.2" fill="none"/>
<text x="1110" y="470" class="t4" transform="rotate(-90 1110 470)">Predicted values</text>
<text x="1184" y="466" class="t4" transform="rotate(-90 1184 466)">Modes (%)</text>
<text x="1130" y="501" class="t4">Observed values</text><text x="1200" y="501" class="t4">Time (s) ×10⁷</text>
<g class="t4">
<line x1="1105" y1="513" x2="1115" y2="513" stroke="#e22"/><text x="1120" y="514.5">Observed LLI</text>
<line x1="1105" y1="520" x2="1115" y2="520" stroke="#e22" stroke-dasharray="2 1"/><text x="1120" y="521.5">Predicted LLI</text>
<line x1="1105" y1="527" x2="1115" y2="527" stroke="#2a2"/><text x="1120" y="528.5">Observed LAM_NE</text>
<line x1="1175" y1="513" x2="1185" y2="513" stroke="#2a2" stroke-dasharray="2 1"/><text x="1190" y="514.5">Predicted LAM_NE</text>
<line x1="1175" y1="520" x2="1185" y2="520" stroke="#22f"/><text x="1190" y="521.5">Observed LAM_PE</text>
<line x1="1175" y1="527" x2="1185" y2="527" stroke="#22f" stroke-dasharray="2 1"/><text x="1190" y="528.5">Predicted LAM_PE</text>
</g>
<rect x="1138" y="538" width="77" height="56" class="ax"/>
<path d="M1142,587 L1160,587 L1160,567 L1188,567 L1188,546 L1210,546" stroke="#e22" stroke-width="0.8" fill="none"/>
<path d="M1142,587 L1157,587 L1157,567 L1201,567 L1201,546 L1210,546" stroke="#e22" stroke-width="0.6" stroke-dasharray="1.5 1" fill="none"/>
<text x="1172" y="627" class="b" font-size="15" text-anchor="middle">Degradation mode</text>
<text x="1172" y="646" class="b" font-size="15" text-anchor="middle">estimation and degradation</text>
<text x="1172" y="664" class="b" font-size="15" text-anchor="middle">phase detection</text>
</svg>
</body></html>
